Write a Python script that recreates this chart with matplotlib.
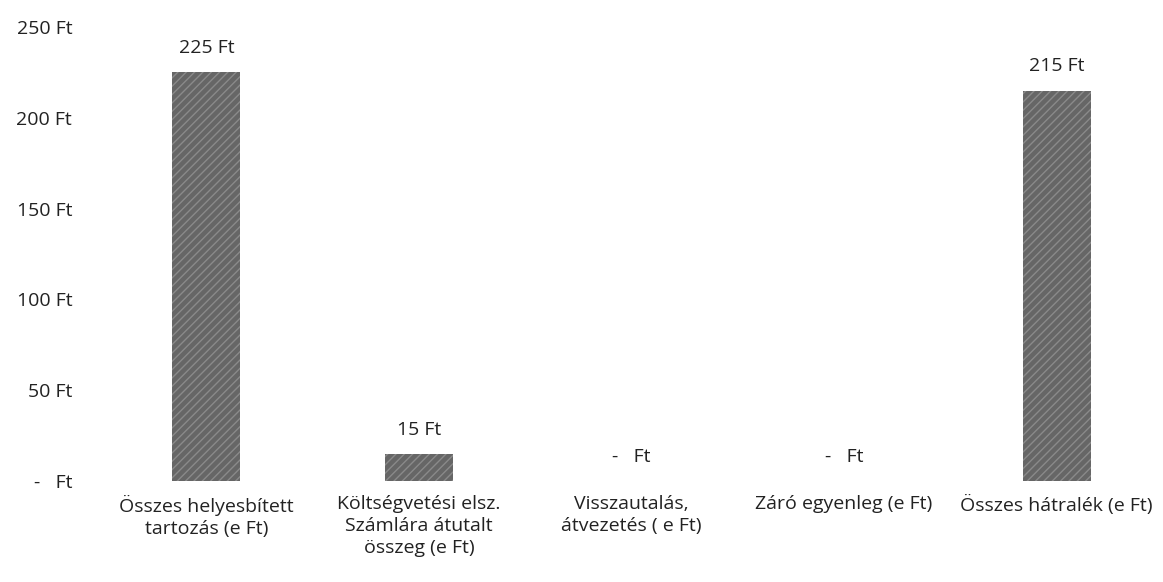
import matplotlib
matplotlib.use('Agg')
import matplotlib.pyplot as plt

categories = ['Összes helyesbített\ntartozás (e Ft)',
              'Költségvetési elsz.\nSzámlára átutalt\nösszeg (e Ft)',
              'Visszautalás,\nátvezetés ( e Ft)',
              'Záró egyenleg (e Ft)',
              'Összes hátralék (e Ft)']
values = [225, 15, 0, 0, 215]
y_ticks = [0, 50, 100, 150, 200, 250]


def ft(v):
    # accounting style: zero shows as a dash
    return '-   Ft' if v == 0 else '{} Ft'.format(v)


plt.rcParams['font.family'] = ['Open Sans', 'DejaVu Sans']
fs = 14

fig = plt.figure(figsize=(11.63, 5.82), dpi=100)
ax = fig.add_axes([0.086, 0.1735, 0.914, 0.78])

x = range(len(values))
bars = ax.bar(x, values, width=0.32, color='#666666', edgecolor='#8a8a8a',
              hatch='////', linewidth=0)

for i, v in enumerate(values):
    ax.annotate(ft(v), (i, v), xytext=(0, 11), textcoords='offset points',
                ha='center', va='bottom', fontsize=fs, color='#222222')

ax.set_xlim(-0.5, len(values) - 0.5)
ax.set_ylim(0, 250)
ax.set_yticks(y_ticks)
ax.set_yticklabels([ft(v) for v in y_ticks], fontsize=fs, color='#222222')
ax.set_xticks(list(x))
ax.set_xticklabels(categories, fontsize=fs, color='#222222', linespacing=1.3)
ax.tick_params(axis='both', length=0)
ax.tick_params(axis='y', pad=20)
ax.tick_params(axis='x', pad=10)
for s in ax.spines.values():
    s.set_visible(False)

fig.savefig('out.png', dpi=100, facecolor='white')
